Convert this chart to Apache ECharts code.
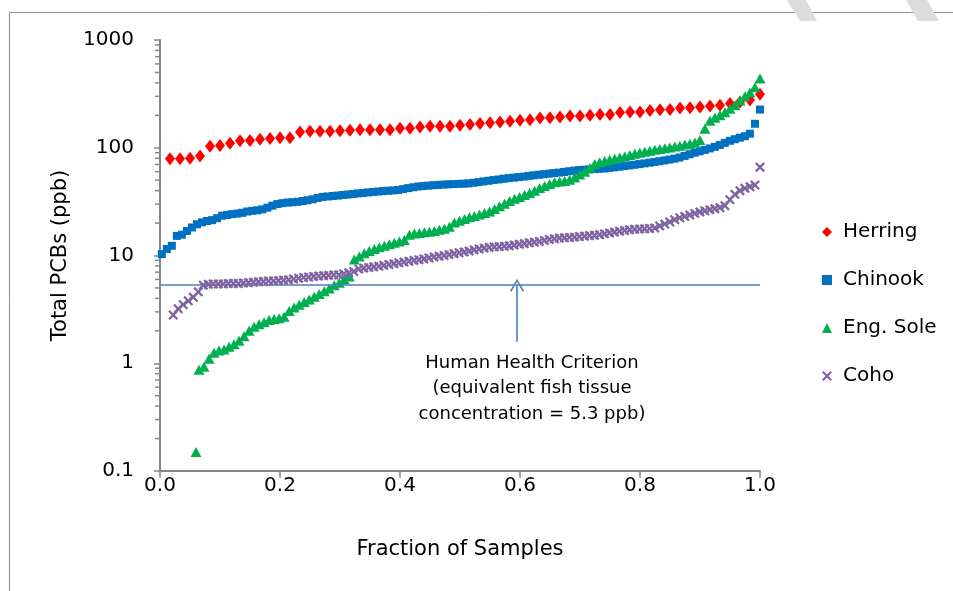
<!DOCTYPE html>
<html>
<head>
<meta charset="utf-8">
<script src="https://cdn.jsdelivr.net/npm/echarts@6/dist/echarts.min.js"></script>
<style>
  html, body { margin: 0; padding: 0; background: #ffffff; }
  #chart { width: 953px; height: 591px; }
</style>
</head>
<body>
<div id="chart"></div>
<script>
// ---------------- data ----------------
const seriesNames = ['Herring', 'Chinook', 'Eng. Sole', 'Coho'];

// Herring: 60 samples, fraction = rank / 60
const herringValues = [79, 79, 80, 84, 103, 105, 110, 116, 117, 120,
  122, 124, 124, 140, 142, 142, 142, 144, 145, 147,
  147, 147, 147, 152, 152, 156, 158, 158, 158, 162,
  164, 168, 171, 173, 176, 180, 182, 189, 190, 193,
  197, 197, 200, 203, 204, 212, 215, 215, 222, 225,
  226, 234, 235, 239, 244, 248, 257, 266, 278, 313];
const herringRange = [1 / 60, 1.0];

// Chinook
const chinookValues = [10.3, 11.5, 12.3, 15.2, 15.6, 16.9, 18.2, 19.5, 20.3, 20.9,
  21.3, 22.2, 23.4, 23.8, 24.2, 24.5, 24.9, 25.6, 26.0, 26.3,
  26.8, 27.8, 29.0, 30.0, 30.6, 31.0, 31.2, 31.5, 32.0, 32.6,
  33.2, 34.2, 35.0, 35.3, 35.7, 36.0, 36.4, 36.8, 37.2, 37.7,
  38.0, 38.5, 38.9, 39.2, 39.6, 39.9, 40.2, 40.5, 41.3, 42.2,
  43.0, 43.7, 44.1, 44.5, 44.9, 45.2, 45.5, 45.8, 46.0, 46.2,
  46.4, 46.7, 47.3, 48.0, 48.7, 49.4, 50.1, 50.8, 51.6, 52.2,
  52.8, 53.4, 54.0, 54.8, 55.5, 56.2, 56.8, 57.5, 58.2, 58.8,
  59.6, 60.5, 61.3, 62.0, 62.4, 62.9, 63.3, 63.8, 64.2, 65.0,
  65.8, 66.7, 67.6, 68.5, 69.5, 70.5, 71.6, 72.7, 73.8, 75.0,
  76.3, 77.7, 79.2, 81.2, 84.0, 87.0, 90.0, 92.6, 95.5, 98.5,
  102, 106, 111, 116, 120, 124, 128, 135, 167, 226];
const chinookRange = [0.003, 1.0];

// English Sole (one low outlier, then the main run)
const soleOutlier = [0.06, 0.15];
const soleValues = [0.87, 0.93, 1.10, 1.25, 1.31, 1.34, 1.42, 1.50, 1.62, 1.78,
  2.00, 2.18, 2.30, 2.40, 2.52, 2.58, 2.61, 2.70, 3.05, 3.30,
  3.50, 3.70, 3.90, 4.15, 4.40, 4.65, 4.95, 5.30, 5.60, 6.00,
  6.4, 9.2, 9.8, 10.5, 11.0, 11.5, 11.9, 12.3, 12.7, 13.1,
  13.5, 13.9, 15.6, 16.0, 16.2, 16.4, 16.6, 16.9, 17.3, 17.7,
  18.5, 20.2, 21.0, 21.8, 22.6, 23.3, 24.0, 24.8, 25.6, 27.0,
  28.6, 30.2, 32.0, 33.6, 35.0, 36.4, 38.0, 40.0, 42.2, 44.2,
  46.0, 47.8, 48.5, 49.2, 50.5, 53.0, 56.5, 60.0, 65.0, 70.5,
  73.5, 75.5, 77.5, 79.0, 81.0, 83.0, 85.5, 88.0, 90.0, 92.0,
  94.0, 96.0, 97.5, 99.0, 100.5, 102.5, 104.5, 107, 109, 112,
  118, 150, 178, 190, 200, 213, 230, 248, 275, 300, 325, 365, 440];
const soleRange = [0.065, 1.0];

// Coho
const cohoValues = [2.8, 3.2, 3.5, 3.8, 4.1, 4.6, 5.3, 5.4, 5.45, 5.45,
  5.45, 5.5, 5.5, 5.5, 5.55, 5.6, 5.65, 5.7, 5.75, 5.8,
  5.8, 5.85, 5.9, 5.95, 6.05, 6.15, 6.25, 6.3, 6.4, 6.45,
  6.5, 6.55, 6.6, 6.6, 6.75, 6.9, 7.1, 7.5, 7.65, 7.75,
  7.85, 7.95, 8.1, 8.25, 8.4, 8.55, 8.7, 8.85, 9.0, 9.15,
  9.3, 9.5, 9.7, 9.85, 10.0, 10.2, 10.4, 10.6, 10.8, 11.0,
  11.3, 11.5, 11.7, 11.9, 12.0, 12.1, 12.2, 12.3, 12.5, 12.7,
  12.9, 13.1, 13.3, 13.5, 13.8, 14.1, 14.3, 14.5, 14.6, 14.7,
  14.8, 15.0, 15.1, 15.3, 15.4, 15.6, 15.9, 16.2, 16.5, 16.8,
  17.1, 17.3, 17.5, 17.6, 17.7, 17.8, 18.0, 18.8, 19.6, 20.5,
  21.5, 22.4, 23.0, 23.8, 24.6, 25.4, 26.0, 26.6, 27.2, 27.8,
  29.0, 33.0, 37.0, 40.0, 42.0, 43.5, 45.0, 66];
const cohoRange = [0.022, 1.0];

// Human health criterion and its annotation
const criterionValue = 5.3;
const arrowFraction = 0.595;
const arrowBaseValue = 1.58;
const annotationLines = ['Human Health Criterion', '(equivalent fish tissue', 'concentration = 5.3 ppb)'];

// axes
const xTickLabels = ['0.0', '0.2', '0.4', '0.6', '0.8', '1.0'];
const yTickLabels = ['0.1', '1', '10', '100', '1000'];
const yMinorTicks = [0.2, 0.3, 0.4, 0.5, 0.6, 0.7, 0.8, 0.9,
  2, 3, 4, 5, 6, 7, 8, 9, 20, 30, 40, 50, 60, 70, 80, 90,
  200, 300, 400, 500, 600, 700, 800, 900];

// ---------------- build ----------------
function pairs(values, range) {
  const n = values.length;
  return values.map((v, i) => [range[0] + i * (range[1] - range[0]) / (n - 1), v]);
}

const FONT = 'DejaVu Sans';
const AXIS_GRAY = '#868686';
const crossPath = 'path://M1.6,0 L5,3.4 L8.4,0 L10,1.6 L6.6,5 L10,8.4 L8.4,10 L5,6.6 L1.6,10 L0,8.4 L3.4,5 L0,1.6 Z';
const chevronPath = 'path://M8,0 L16,14 L14.4,15 L8,3.4 L1.6,15 L0,14 Z';

const chart = echarts.init(document.getElementById('chart'), null, { renderer: 'canvas' });

const option = {
  animation: false,
  backgroundColor: '#ffffff',
  textStyle: { fontFamily: FONT },
  grid: { left: 160, right: 193, top: 40, bottom: 120, containLabel: false },
  legend: {
    data: seriesNames,
    orient: 'vertical',
    left: 817,
    top: 217,
    itemWidth: 10,
    itemHeight: 10,
    itemGap: 28,
    textStyle: { fontFamily: FONT, fontSize: 20, color: '#000', lineHeight: 20, padding: [0, 0, 0, 6] },
    selectedMode: false
  },
  xAxis: {
    type: 'value',
    min: 0,
    max: 1,
    interval: 0.2,
    name: 'Fraction of Samples',
    nameLocation: 'middle',
    nameGap: 68,
    nameTextStyle: { fontFamily: FONT, fontSize: 21, color: '#000' },
    axisLine: { show: true, lineStyle: { color: AXIS_GRAY, width: 2 } },
    axisTick: { show: true, length: 7, lineStyle: { color: AXIS_GRAY, width: 1.5 } },
    axisLabel: {
      fontFamily: FONT, fontSize: 20, color: '#000', margin: 5,
      formatter: (v) => xTickLabels[Math.round(v / 0.2)]
    },
    splitLine: { show: false }
  },
  yAxis: {
    type: 'log',
    logBase: 10,
    min: 0.1,
    max: 1000,
    name: 'Total PCBs (ppb)',
    nameLocation: 'middle',
    nameGap: 89,
    nameRotate: 90,
    nameTextStyle: { fontFamily: FONT, fontSize: 21, color: '#000' },
    axisLine: { show: true, lineStyle: { color: AXIS_GRAY, width: 2 } },
    axisTick: { show: true, length: 6, lineStyle: { color: AXIS_GRAY, width: 1.5 } },
    axisLabel: {
      fontFamily: FONT, fontSize: 20, color: '#000', margin: 26,
      formatter: (v) => yTickLabels[Math.round(Math.log10(v)) + 1]
    },
    splitLine: { show: false }
  },
  series: [
    {
      name: 'Herring', type: 'scatter',
      symbol: 'diamond', symbolSize: [10, 13],
      itemStyle: { color: '#FF0000', opacity: 1 },
      data: pairs(herringValues, herringRange),
      z: 2
    },
    {
      name: 'Chinook', type: 'scatter',
      symbol: 'rect', symbolSize: 8,
      itemStyle: { color: '#0070C0', opacity: 1 },
      data: pairs(chinookValues, chinookRange),
      z: 3
    },
    {
      name: 'Eng. Sole', type: 'scatter',
      symbol: 'triangle', symbolSize: [11, 10],
      itemStyle: { color: '#00B050', opacity: 1 },
      data: [soleOutlier].concat(pairs(soleValues, soleRange)),
      z: 4
    },
    {
      name: 'Coho', type: 'scatter',
      symbol: crossPath, symbolSize: 10,
      itemStyle: { color: '#8064A2', opacity: 1 },
      data: pairs(cohoValues, cohoRange),
      z: 5,
      markLine: {
        silent: true,
        animation: false,
        label: { show: false },
        emphasis: { disabled: true },
        lineStyle: { color: '#4A7EBB', width: 1.6, type: 'solid' },
        data: [
          [
            { coord: [0, criterionValue], symbol: 'none' },
            { coord: [1, criterionValue], symbol: 'none' }
          ],
          [
            { coord: [arrowFraction, arrowBaseValue], symbol: 'none' },
            { coord: [arrowFraction, criterionValue], symbol: chevronPath, symbolSize: [14, 13] }
          ]
        ]
      }
    },
    {
      name: 'minorTicks', type: 'custom',
      silent: true,
      clip: false,
      z: 1,
      data: yMinorTicks.map((v) => [0, v]),
      renderItem: function (params, api) {
        const p = api.coord([0, api.value(1)]);
        return {
          type: 'line',
          shape: { x1: p[0] - 5, y1: p[1], x2: p[0], y2: p[1] },
          style: { stroke: AXIS_GRAY, lineWidth: 1.5 }
        };
      }
    }
  ],
  graphic: [
    { type: 'rect', left: 7, top: 10, shape: { x: 0, y: 0, width: 1000, height: 700 },
      style: { fill: 'none', stroke: '#8c8c8c', lineWidth: 1 }, silent: true, z: 0 },
    { type: 'polygon', shape: { points: [[787, 0], [806, 0], [817, 21], [800, 21]] },
      style: { fill: '#dcdcdc' }, silent: true, z: 0 },
    { type: 'polygon', shape: { points: [[906, 0], [927, 0], [939, 21], [918, 21]] },
      style: { fill: '#dcdcdc' }, silent: true, z: 0 },
    { type: 'text', x: 532, y: 363, style: { text: annotationLines[0], font: '18px "DejaVu Sans"', fill: '#000', textAlign: 'center', textVerticalAlign: 'middle' }, silent: true, z: 10 },
    { type: 'text', x: 532, y: 388, style: { text: annotationLines[1], font: '18px "DejaVu Sans"', fill: '#000', textAlign: 'center', textVerticalAlign: 'middle' }, silent: true, z: 10 },
    { type: 'text', x: 532, y: 414, style: { text: annotationLines[2], font: '18px "DejaVu Sans"', fill: '#000', textAlign: 'center', textVerticalAlign: 'middle' }, silent: true, z: 10 }
  ]
};

chart.setOption(option);
</script>
</body>
</html>
